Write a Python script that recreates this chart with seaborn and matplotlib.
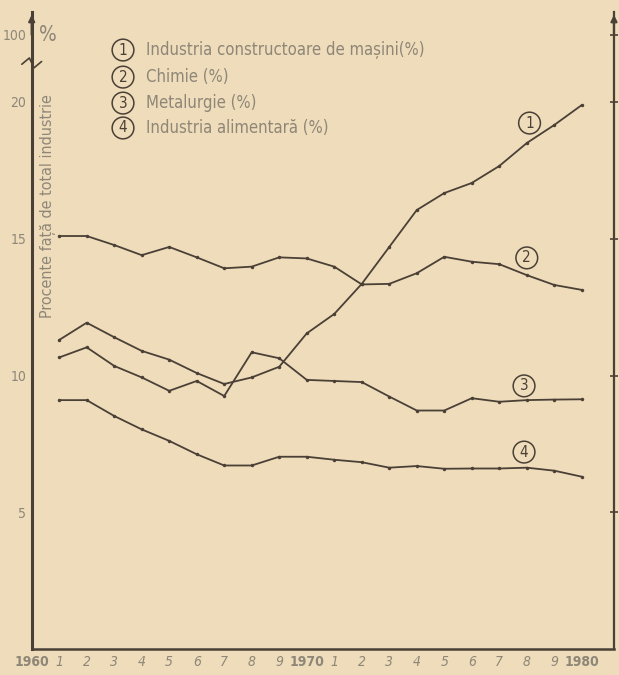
import matplotlib

matplotlib.use("Agg")
import matplotlib.pyplot as plt
import matplotlib.transforms as mtransforms
import pandas as pd
import seaborn as sns
from matplotlib import font_manager

# Values (percent of total industry)
years = list(range(1961, 1981))
masini = [11.30, 11.93, 11.40, 10.90, 10.58, 10.09, 9.69, 9.93, 10.32, 11.54,
          12.25, 13.35, 14.70, 16.05, 16.67, 17.04, 17.66, 18.50, 19.16, 19.89]
chimie = [15.10, 15.10, 14.77, 14.40, 14.70, 14.32, 13.92, 13.98, 14.32, 14.28,
          13.98, 13.33, 13.35, 13.74, 14.34, 14.16, 14.07, 13.67, 13.31, 13.13]
metalurgie = [10.66, 11.03, 10.35, 9.93, 9.44, 9.80, 9.25, 10.85, 10.63, 9.84,
              9.80, 9.76, 9.23, 8.72, 8.72, 9.17, 9.04, 9.10, 9.12, 9.13]
alimentara = [9.10, 9.10, 8.52, 8.03, 7.61, 7.12, 6.71, 6.71, 7.03, 7.03,
              6.92, 6.83, 6.63, 6.69, 6.59, 6.60, 6.60, 6.63, 6.52, 6.30]

series_names = [
    "Industria constructoare de mașini(%)",
    "Chimie (%)",
    "Metalurgie (%)",
    "Industria alimentară (%)",
]
series_values = [masini, chimie, metalurgie, alimentara]
series_numbers = ["1", "2", "3", "4"]

xtick_values = list(range(1960, 1981))
xtick_labels = ["1960"] + [str(i) for i in range(1, 10)] + ["1970"] + \
    [str(i) for i in range(1, 10)] + ["1980"]
ytick_values = [5, 10, 15, 20]
ylabel = "Procente față de total industrie"

paper = "#eedcbb"
ink = "#4a4036"
grey = "#8e8677"

sns.set_style("white")
names = {f.name for f in font_manager.fontManager.ttflist}
narrow = "Liberation Sans Narrow" if "Liberation Sans Narrow" in names else "DejaVu Sans"
plt.rcParams["font.family"] = [narrow, "DejaVu Sans"]
plt.rcParams["font.stretch"] = "condensed"

rows = []
for name, vals in zip(series_names, series_values):
    for yr, v in zip(years, vals):
        rows.append({"an": yr, "procent": v, "ramura": name})
df = pd.DataFrame(rows)

fig = plt.figure(figsize=(6.19, 6.75), dpi=100, facecolor=paper)
ax = fig.add_axes([0.0512, 0.0385, 0.9407, 0.9437], facecolor=paper)

sns.lineplot(
    data=df,
    x="an",
    y="procent",
    hue="ramura",
    palette=[ink] * 4,
    marker="o",
    markersize=2.5,
    markeredgewidth=0,
    linewidth=1.3,
    legend=False,
    ax=ax,
)

ax.set_xlim(1960, 1981.17)
ax.set_ylim(0, 23.29)
ax.set_xlabel("")
ax.set_ylabel("")

# axis styling
for side in ["left", "bottom", "right"]:
    ax.spines[side].set_color(ink)
ax.spines["left"].set_linewidth(2.2)
ax.spines["bottom"].set_linewidth(1.8)
ax.spines["right"].set_linewidth(1.6)
ax.spines["top"].set_visible(False)

top_val = 22.45
ax.set_yticks(ytick_values + [top_val])
ax.set_yticklabels([str(v) for v in ytick_values] + ["100"])
ax.tick_params(axis="y", direction="inout", length=6, width=1.2, colors=ink,
               labelcolor=grey, labelsize=10, pad=1, right=True)
ax.set_xticks(xtick_values)
ax.set_xticklabels(xtick_labels)
ax.tick_params(axis="x", direction="in", length=5, width=1.2, colors=ink,
               labelcolor=grey, labelsize=10, pad=4)
for lab in ax.get_xticklabels():
    if len(lab.get_text()) == 1:
        lab.set_style("italic")
    else:
        lab.set_fontweight("bold")

# arrows on top of the vertical axes
for xa in [0, 1]:
    ax.annotate("", xy=(xa, 1.0), xytext=(xa, 0.96), xycoords="axes fraction",
                arrowprops=dict(arrowstyle="-|>", color=ink, lw=1.6,
                                mutation_scale=9), annotation_clip=False)

# break in the left axis
brk = 21.43
tr = mtransforms.blended_transform_factory(ax.transAxes, ax.transData)
ax.plot([-0.006, 0.006], [brk, brk], color=paper, lw=5, transform=tr,
        clip_on=False, solid_capstyle="butt")
ax.plot([-0.017, -0.004, 0.004, 0.017], [brk - 0.05, brk + 0.18, brk - 0.18, brk + 0.05],
        color=ink, lw=1.2, transform=tr, clip_on=False)
ax.text(0.012, top_val, "%", transform=tr, fontsize=15, color=grey,
        ha="left", va="center")

# y label inside the axes
ax.text(0.028, 16.2, ylabel, transform=tr, rotation=90, fontsize=11.5,
        color=grey, ha="center", va="center")

# legend at top
legend_y = [21.9, 20.91, 19.96, 19.05]
for num, name, yv in zip(series_numbers, series_names, legend_y):
    ax.text(1963.32, yv, num, fontsize=11, color=ink, ha="center", va="center",
            bbox=dict(boxstyle="circle,pad=0.22", fc="none", ec=ink, lw=1.1))
    ax.text(1964.15, yv, name, fontsize=12, color=grey, ha="left", va="center")

# circled numbers near line ends
end_labels_x = [1978.1, 1978.0, 1977.9, 1977.9]
end_labels_y = [19.23, 14.3, 9.62, 7.2]
for num, xv, yv in zip(series_numbers, end_labels_x, end_labels_y):
    ax.text(xv, yv, num, fontsize=11, color=ink, ha="center", va="center",
            bbox=dict(boxstyle="circle,pad=0.22", fc=paper, ec=ink, lw=1.1))

fig.savefig("out.png", dpi=100, facecolor=paper)
